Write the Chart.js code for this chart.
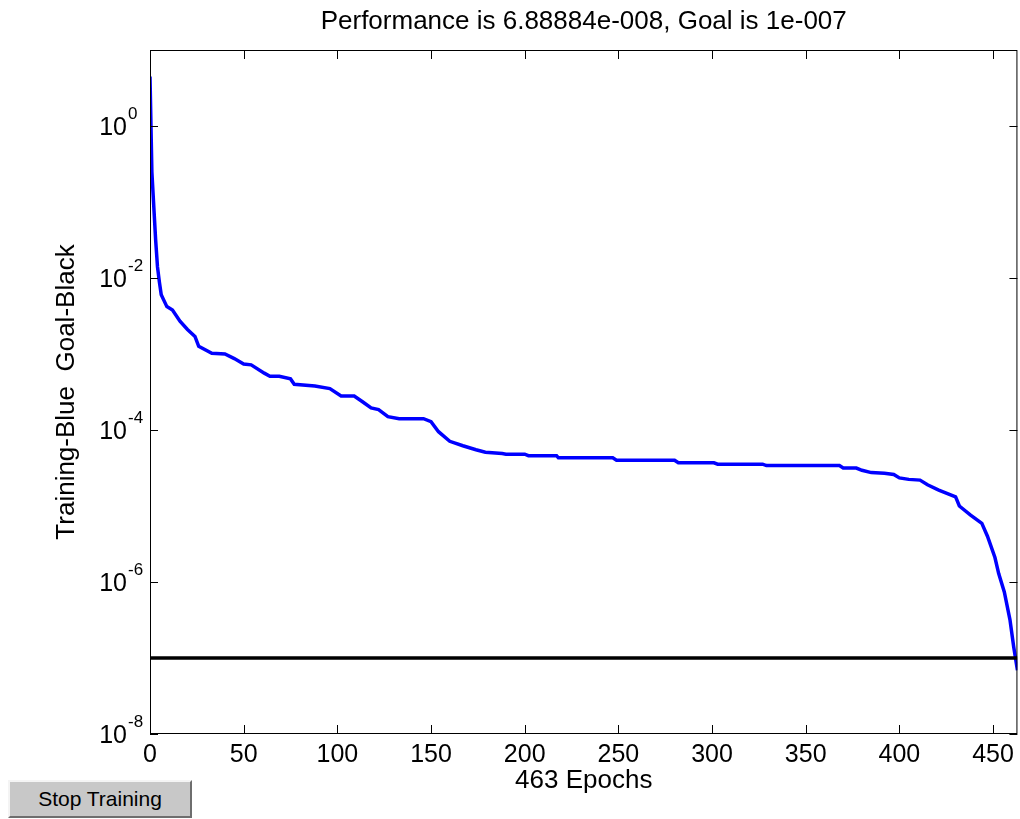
<!DOCTYPE html>
<html>
<head>
<meta charset="utf-8">
<title>Training performance</title>
<script src="https://cdn.jsdelivr.net/npm/chart.js@4"></script>
<style>
  body { margin: 0; background: #fff; }
  #wrap { position: relative; width: 1020px; height: 819px; }
  #stop {
    position: absolute; left: 8px; top: 780px; width: 184px; height: 38px;
    background: #c8c8c8; color: #000; padding: 0;
    border: 2px solid; border-color: #f4f4f4 #6e6e6e #6e6e6e #f4f4f4;
    font: 21px Arial, "Liberation Sans", Helvetica, sans-serif;
  }
</style>
</head>
<body>
<div id="wrap">
  <canvas id="perf" width="1020" height="819"></canvas>
  <button id="stop">Stop Training</button>
</div>
<script>
// Training record

const FONT = 'Arial, "Liberation Sans", Helvetica, sans-serif';
Chart.defaults.font.family = FONT;
Chart.defaults.color = '#000';

const epochs = [0, 1, 2, 3, 4, 5, 6, 9, 12, 16, 20, 24, 26, 33, 40, 45, 50, 54, 61, 64,
    69, 75, 77, 88, 96, 102, 109, 114, 118, 122, 127, 133, 146, 150, 154, 160, 167, 174, 179, 188,
    190, 200, 202, 217, 218, 247, 249, 280, 282, 301, 303, 327, 329, 368, 370, 377, 380, 385, 392, 397,
    400, 405, 411, 415, 421, 424, 430, 432, 438, 444, 447, 451, 453, 456, 459, 461, 463];

const trainPerf = [4.47, 2.5e-1, 8.9e-2, 3.2e-2, 1.4e-2, 8.9e-3, 6.0e-3, 4.2e-3, 3.8e-3, 2.7e-3,
    2.1e-3, 1.7e-3, 1.26e-3, 1.02e-3, 1.0e-3, 8.7e-4, 7.4e-4, 7.2e-4, 5.6e-4, 5.1e-4,
    5.1e-4, 4.7e-4, 4.0e-4, 3.8e-4, 3.5e-4, 2.8e-4, 2.8e-4, 2.3e-4, 1.95e-4, 1.86e-4,
    1.5e-4, 1.41e-4, 1.41e-4, 1.29e-4, 9.5e-5, 7.1e-5, 6.2e-5, 5.5e-5, 5.1e-5, 4.9e-5,
    4.8e-5, 4.8e-5, 4.6e-5, 4.6e-5, 4.3e-5, 4.3e-5, 4.0e-5, 4.0e-5, 3.7e-5, 3.7e-5,
    3.55e-5, 3.55e-5, 3.4e-5, 3.4e-5, 3.16e-5, 3.16e-5, 2.95e-5, 2.75e-5, 2.7e-5, 2.6e-5,
    2.34e-5, 2.24e-5, 2.19e-5, 1.9e-5, 1.62e-5, 1.51e-5, 1.32e-5, 1.0e-5, 7.6e-6, 5.9e-6,
    4.0e-6, 2.1e-6, 1.29e-6, 7.4e-7, 3.2e-7, 1.41e-7, 6.89e-8];

const goal = 1e-7;
const goalEpochs = [0, 463];

const xTicks = [0, 50, 100, 150, 200, 250, 300, 350, 400, 450];
const yTicks = [1e-8, 1e-6, 1e-4, 1e-2, 1];

// Matlab style box: inward ticks on all four sides and 10^n labels
const matlabAxes = {
    id: 'matlabAxes',
    afterDraw(chart) {
        const { ctx, chartArea: a, scales: { x, y } } = chart;
        ctx.save();
        ctx.strokeStyle = '#000';
        ctx.lineWidth = 1;
        ctx.strokeRect(a.left + 0.5, a.top + 0.5, a.right - a.left - 1, a.bottom - a.top - 1);

        ctx.beginPath();
        x.ticks.forEach(t => {
            const px = Math.round(x.getPixelForValue(t.value)) + 0.5;
            ctx.moveTo(px, a.bottom); ctx.lineTo(px, a.bottom - 9);
            ctx.moveTo(px, a.top); ctx.lineTo(px, a.top + 9);
        });
        y.ticks.forEach(t => {
            const py = Math.round(y.getPixelForValue(t.value)) + 0.5;
            ctx.moveTo(a.left, py); ctx.lineTo(a.left + 8, py);
            ctx.moveTo(a.right, py); ctx.lineTo(a.right - 8, py);
        });
        ctx.stroke();

        ctx.fillStyle = '#000';
        ctx.textBaseline = 'alphabetic';
        y.ticks.forEach(t => {
            const py = y.getPixelForValue(t.value);
            ctx.font = '25px ' + FONT;
            ctx.textAlign = 'right';
            ctx.fillText('10', a.left - 23, py + 9);
            ctx.font = '17px ' + FONT;
            ctx.textAlign = 'left';
            ctx.fillText(String(Math.round(Math.log10(t.value))), a.left - 22, py - 7);
        });
        ctx.restore();
    }
};

const ctx = document.getElementById('perf').getContext('2d');

new Chart(ctx, {
    type: 'line',
    data: {
        datasets: [{
            label: 'Goal',
            data: goalEpochs.map(e => ({ x: e, y: goal })),
            borderColor: '#000',
            borderWidth: 3.5,
            pointRadius: 0,
            fill: false
        }, {
            label: 'Training',
            data: epochs.map((e, i) => ({ x: e, y: trainPerf[i] })),
            borderColor: '#0000ff',
            borderWidth: 3.5,
            pointRadius: 0,
            tension: 0,
            fill: false
        }]
    },
    options: {
        responsive: false,
        animation: false,
        layout: { padding: { right: 1 } },
        plugins: {
            legend: { display: false },
            tooltip: { enabled: false },
            title: {
                display: true,
                fullSize: false,
                text: 'Performance is 6.88884e-008, Goal is 1e-007',
                font: { size: 26, weight: 'normal' },
                padding: { top: 6, bottom: 12.8 }
            }
        },
        scales: {
            x: {
                type: 'linear',
                min: 0,
                max: 463,
                afterBuildTicks: s => { s.ticks = xTicks.map(v => ({ value: v })); },
                afterFit: s => { s.height = 85; },
                ticks: { font: { size: 25 }, padding: 6, maxRotation: 0, autoSkip: false },
                grid: { drawOnChartArea: false, drawTicks: false },
                border: { display: false },
                title: {
                    display: true,
                    text: '463 Epochs',
                    font: { size: 26 },
                    padding: { top: 0, bottom: 23 }
                }
            },
            y: {
                type: 'logarithmic',
                min: 1e-8,
                max: 10,
                afterBuildTicks: s => { s.ticks = yTicks.map(v => ({ value: v })); },
                afterFit: s => { s.width = 150; },
                ticks: { display: false },
                grid: { drawOnChartArea: false, drawTicks: false },
                border: { display: false },
                title: {
                    display: true,
                    text: 'Training-Blue  Goal-Black',
                    font: { size: 26 },
                    padding: { top: 51.4, bottom: 0 }
                }
            }
        }
    },
    plugins: [matlabAxes]
});
</script>
</body>
</html>
